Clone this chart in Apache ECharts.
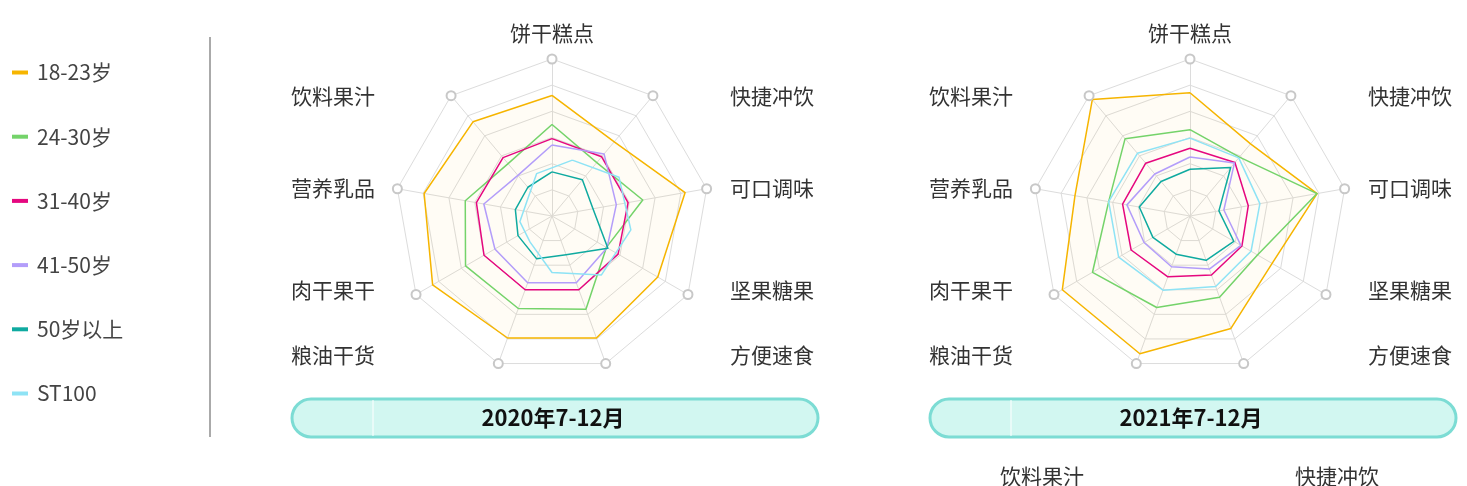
<!DOCTYPE html>
<html>
<head>
<meta charset="utf-8">
<script src="https://cdn.jsdelivr.net/npm/echarts@6/dist/echarts.min.js"></script>
<style>
  html, body { margin: 0; padding: 0; background: #fff; }
  #main { width: 1467px; height: 486px; }
</style>
</head>
<body>
<div id="main"></div>
<script>
// 品类（雷达轴，逆时针，从顶部开始）
const indicators = ['饼干糕点', '饮料果汁', '营养乳品', '肉干果干', '粮油干货', '方便速食', '坚果糖果', '可口调味', '快捷冲饮'];
const groups = ['18-23岁', '24-30岁', '31-40岁', '41-50岁', '50岁以上', 'ST100'];
const periods = ['2020年7-12月', '2021年7-12月'];
const bottomNames = ['饮料果汁', '快捷冲饮'];

// 2020年7-12月
const y2020_18_23 = [76.8, 78.3, 82.7, 87.8, 82.7, 82.7, 77.8, 86.1, 61.7];
const y2020_24_30 = [58.3, 43.5, 56.1, 63.6, 62.7, 63.2, 40.0, 58.7, 44.4];
const y2020_31_40 = [49.3, 48.5, 48.9, 50.0, 50.0, 50.0, 48.6, 49.2, 49.2];
const y2020_41_50 = [45.2, 33.8, 44.1, 42.0, 45.3, 45.3, 40.5, 41.6, 51.6];
const y2020_50up = [28.1, 23.9, 23.7, 25.0, 28.9, 26.2, 41.1, 26.5, 30.1];
// ST100 在第一张图里与轴错开半格
const y2020_st100 = [37.9, 28.7, 18.5, 20.8, 21.7, 36.0, 49.0, 51.0, 49.3];

// 2021年7-12月
const y2021_18_23 = [78.5, 96.8, 74.4, 93.9, 93.4, 76.2, 60.4, 82.2, 60.0];
const y2021_24_30 = [55.0, 64.3, 52.6, 71.7, 62.0, 55.0, 49.6, 82.2, 49.0];
const y2021_31_40 = [43.2, 43.9, 43.6, 43.3, 41.2, 40.0, 38.2, 37.7, 44.5];
const y2021_41_50 = [37.6, 34.9, 40.8, 33.8, 34.4, 36.0, 37.4, 21.9, 44.0];
const y2021_50up = [29.8, 28.7, 32.8, 27.3, 25.9, 30.0, 32.2, 18.7, 40.3];
const y2021_st100 = [49.6, 52.1, 52.6, 52.5, 50.3, 47.8, 44.9, 45.2, 48.3];

const colors = ['#f6b500', '#74d36a', '#e5077f', '#b39dfa', '#0faaa0', '#8ee3f5'];
const outerRing = indicators.map(() => 100);

const chart = echarts.init(document.getElementById('main'));

const centers = [552, 1190];
const cy = 216;
const R = 157;

function makeRadar(cx, startAngle, visible) {
  return {
    center: [cx, cy],
    radius: R,
    startAngle: startAngle,
    splitNumber: 6,
    shape: 'polygon',
    indicator: indicators.map(n => ({ name: visible ? n : '', min: 0, max: 100 })),
    axisName: { show: false },
    splitArea: { show: false },
    splitLine: { show: visible, lineStyle: { color: '#dcdcdc', width: 1 } },
    axisLine: { show: visible, lineStyle: { color: '#dcdcdc', width: 1 } },
    axisTick: { show: false },
    axisLabel: { show: false }
  };
}

function dataSeries(name, idx, values, radarIndex) {
  const s = {
    type: 'radar',
    name: name,
    radarIndex: radarIndex,
    symbol: 'none',
    silent: true,
    color: colors[idx],
    lineStyle: { color: colors[idx], width: 1.5 },
    itemStyle: { color: colors[idx] },
    data: [{ value: values, name: name }],
    z: 3
  };
  if (idx === 0) {
    s.areaStyle = { color: colors[0], opacity: 0.04 };
  }
  return s;
}

function ringSeries(radarIndex) {
  return {
    type: 'radar',
    name: 'ring' + radarIndex,
    radarIndex: radarIndex,
    symbol: 'emptyCircle',
    symbolSize: 9,
    silent: true,
    itemStyle: { color: '#c8c8c8', borderWidth: 1 },
    lineStyle: { opacity: 0 },
    data: [{ value: outerRing }],
    z: 4
  };
}

const set2020 = [y2020_18_23, y2020_24_30, y2020_31_40, y2020_41_50, y2020_50up];
const set2021 = [y2021_18_23, y2021_24_30, y2021_31_40, y2021_41_50, y2021_50up, y2021_st100];

const series = [ringSeries(0), ringSeries(1)];
set2020.forEach((v, i) => series.push(dataSeries(groups[i], i, v, 0)));
series.push(dataSeries(groups[5], 5, y2020_st100, 2));
set2021.forEach((v, i) => series.push(dataSeries(groups[i], i, v, 1)));

// 文字标签
const labelStyle = { fontSize: 21, fill: '#333', fontFamily: 'Noto Sans CJK SC' };
const rowY = [96, 188, 290, 355];
const leftNames = indicators.slice(1, 5);
const rightNames = indicators.slice(5, 9).reverse();
const graphics = [];

centers.forEach((cx, p) => {
  graphics.push({
    type: 'text', x: cx, y: 33,
    style: Object.assign({ text: indicators[0], align: 'center', verticalAlign: 'middle' }, labelStyle)
  });
  leftNames.forEach((n, i) => graphics.push({
    type: 'text', x: cx - 177, y: rowY[i],
    style: Object.assign({ text: n, align: 'right', verticalAlign: 'middle' }, labelStyle)
  }));
  rightNames.forEach((n, i) => graphics.push({
    type: 'text', x: cx + 178, y: rowY[i],
    style: Object.assign({ text: n, align: 'left', verticalAlign: 'middle' }, labelStyle)
  }));
  // 时间段按钮
  graphics.push({
    type: 'rect',
    shape: { x: cx - 260, y: 399, width: 526, height: 38, r: 19 },
    style: { fill: '#d2f7f1', stroke: '#7cdcd4', lineWidth: 3 }
  });
  graphics.push({
    type: 'line',
    shape: { x1: cx - 179, y1: 400, x2: cx - 179, y2: 436 },
    style: { stroke: '#ffffff', lineWidth: 1 }
  });
  graphics.push({
    type: 'text', x: cx + 1, y: 418,
    style: { text: periods[p], align: 'center', verticalAlign: 'middle', fontSize: 22, fontWeight: 'bold', fill: '#111', fontFamily: 'Noto Sans CJK SC' }
  });
});

graphics.push({
  type: 'text', x: 1042, y: 476,
  style: Object.assign({ text: bottomNames[0], align: 'center', verticalAlign: 'middle' }, labelStyle)
});
graphics.push({
  type: 'text', x: 1337, y: 476,
  style: Object.assign({ text: bottomNames[1], align: 'center', verticalAlign: 'middle' }, labelStyle)
});

// 分隔线
graphics.push({
  type: 'line',
  shape: { x1: 210, y1: 37, x2: 210, y2: 437 },
  style: { stroke: '#aaaaaa', lineWidth: 2 }
});

const option = {
  backgroundColor: '#fff',
  animation: false,
  legend: {
    data: groups,
    orient: 'vertical',
    left: 12,
    top: 62,
    padding: 0,
    icon: 'rect',
    itemWidth: 16,
    itemHeight: 4,
    itemGap: 43.2,
    textStyle: { fontSize: 21, color: '#444', lineHeight: 20, fontFamily: 'Noto Sans CJK SC', padding: [0, 0, 0, 4] }
  },
  radar: [makeRadar(centers[0], 90, true), makeRadar(centers[1], 90, true), makeRadar(centers[0], 70, false)],
  series: series,
  graphic: graphics
};

chart.setOption(option);
</script>
</body>
</html>
